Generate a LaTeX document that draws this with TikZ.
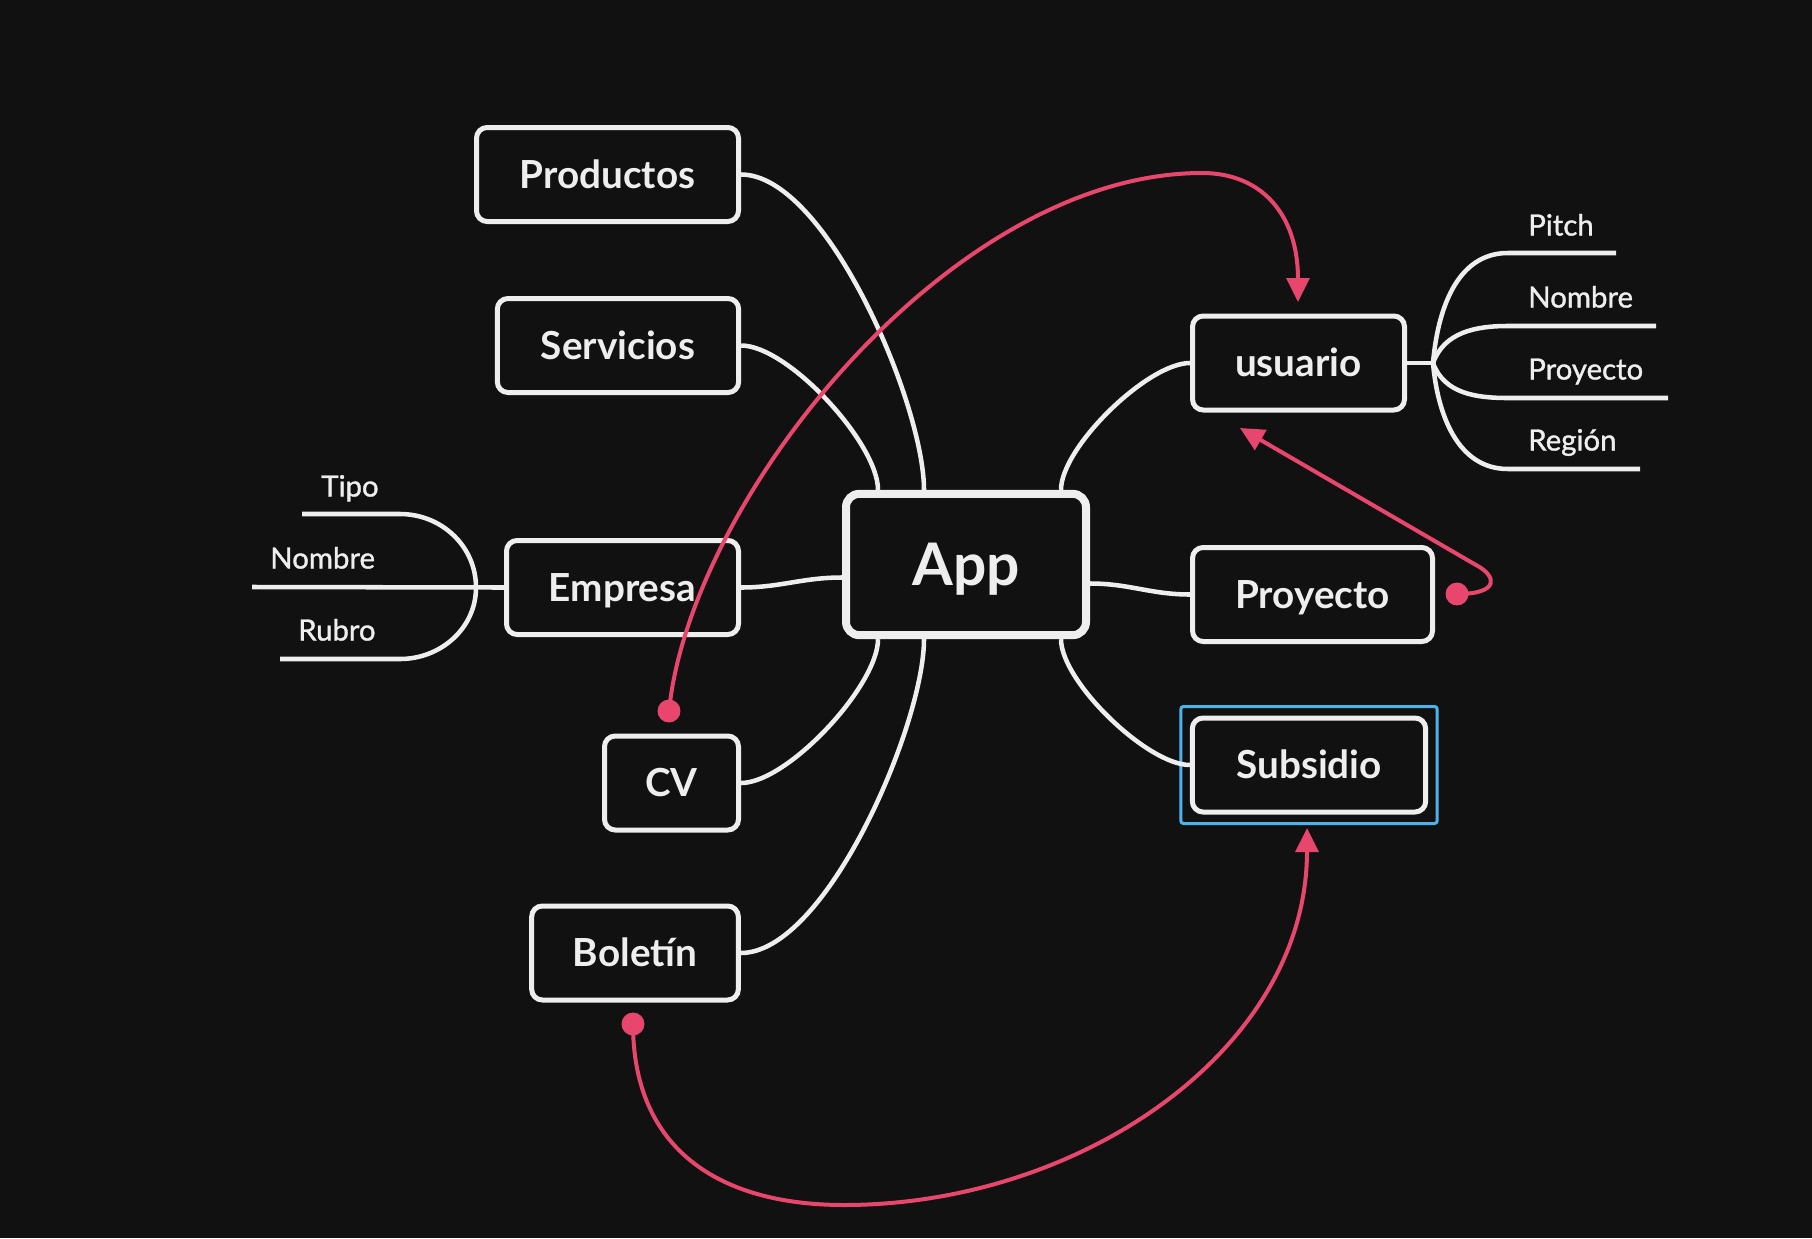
\documentclass[tikz,border=0pt]{standalone}
\usepackage{fontspec}
\setmainfont{Lato}
\newfontfamily\leaffont{Lato}[FakeBold=1.2]
\usepackage{xcolor}
\usepackage{tikz}
\usetikzlibrary{calc,arrows.meta}

\definecolor{bgc}{HTML}{111111}
\definecolor{fgc}{HTML}{EEEEEE}
\definecolor{pinkc}{HTML}{E8466C}
\definecolor{selc}{HTML}{4BB4EE}

\tikzset{
  box/.style={draw=fgc, line width=3.75pt, rounded corners=8pt, fill=bgc, text=fgc,
    font=\bfseries\fontsize{29}{34}\selectfont, minimum height=70.5pt, inner sep=0pt,
    text height=20.8pt, text depth=0pt},
  wire/.style={draw=fgc, line width=3.4pt},
  leaf/.style={text=fgc, font=\leaffont\fontsize{22}{26}\selectfont, inner sep=0pt,
    text height=15.8pt, text depth=0pt, anchor=west},
  link/.style={draw=pinkc, line width=3pt, -{Triangle[length=18pt,width=17pt]}},
}

\begin{document}
\begin{tikzpicture}[x=0.75pt,y=0.75pt,yscale=-1,xscale=1]

    \fill[bgc] (0,0) rectangle (1812,1238);

    \node[box, minimum width=180pt, minimum height=106pt, line width=6pt, rounded corners=10pt,
      font=\bfseries\fontsize{44}{50}\selectfont, text height=31.5pt] (app) at (966,564.5) {App};
    \node[box, minimum width=196.5pt] (prod) at (607.5,174.5) {Productos};
    \node[box, minimum width=181pt] (serv) at (618,345.5) {Servicios};
    \node[box, minimum width=174pt] (emp) at (622.5,587.5) {Empresa};
    \node[box, minimum width=100.5pt] (cv) at (671.5,783) {CV};
    \node[box, minimum width=155pt] (bol) at (635,953) {Boletín};
    \node[box, minimum width=159pt] (usr) at (1298.5,363) {usuario};
    \node[box, minimum width=180pt] (proy) at (1312.5,594.5) {Proyecto};
    \node[box, minimum width=175pt] (sub) at (1309,765) {Subsidio};

    \draw[selc, line width=2.25pt, rounded corners=2pt] ($(sub.north west)+(-9,-9)$) rectangle ($(sub.south east)+(9,9)$);

    \draw[wire] ($(app.north)+(-42,0)$) to[out=-90,in=0,looseness=0.6] (prod.east);
    \draw[wire] ($(app.north)+(-88,0)$) to[out=-90,in=0,looseness=0.6] (serv.east);
    \draw[wire] ($(app.west)+(0,13)$) to[out=180,in=0] (emp.east);
    \draw[wire] ($(app.south)+(-88,0)$) to[out=90,in=0,looseness=0.6] (cv.east);
    \draw[wire] ($(app.south)+(-42,0)$) to[out=90,in=0,looseness=0.6] (bol.east);
    \draw[wire] ($(app.north)+(95,0)$) to[out=-90,in=180,looseness=0.6] (usr.west);
    \draw[wire] ($(app.east)+(0,19)$) to[out=0,in=180] (proy.west);
    \draw[wire] ($(app.south)+(95,0)$) to[out=90,in=180,looseness=0.6] (sub.west);

    \coordinate (ujn) at ($(usr.east)+(26,0)$);
    \coordinate (pitchL) at (1508,253);  \coordinate (pitchR) at (1616,253);
    \coordinate (nomuL) at (1508,326);   \coordinate (nomuR) at (1656,326);
    \coordinate (proyuL) at (1508,398);  \coordinate (proyuR) at (1668,398);
    \coordinate (reguL) at (1508,469);   \coordinate (reguR) at (1640,469);
    \draw[wire] (usr.east) -- (ujn);
    \draw[wire] (ujn) to[out=-85,in=180] (pitchL) -- (pitchR);
    \draw[wire] (ujn) to[out=-70,in=180] (nomuL) -- (nomuR);
    \draw[wire] (ujn) to[out=70,in=180] (proyuL) -- (proyuR);
    \draw[wire] (ujn) to[out=85,in=180] (reguL) -- (reguR);
    \node[leaf] (pitch) at (1528,225) {Pitch};
    \node[leaf] (nomu) at (1528,297) {Nombre};
    \node[leaf] (proyu) at (1528,369) {Proyecto};
    \node[leaf] (regu) at (1528,440) {Región};

    \coordinate (ejn) at ($(emp.west)+(-28,0)$);
    \coordinate (tipoR) at (400,514);  \coordinate (tipoL) at (302,514);
    \coordinate (nomeL) at (252,587);
    \coordinate (rubR) at (400,659);   \coordinate (rubL) at (280,659);
    \draw[wire] (emp.west) -- (nomeL);
    \draw[wire] (ejn) to[out=-90,in=0] (tipoR) -- (tipoL);
    \draw[wire] (ejn) to[out=90,in=0] (rubR) -- (rubL);
    \node[leaf] (tipo) at (321,486) {Tipo};
    \node[leaf] (nome) at (270,558) {Nombre};
    \node[leaf] (rub) at (298,630) {Rubro};

    \coordinate (cvdot) at (669,711);
    \coordinate (bdot) at (633,1024);
    \coordinate (prdot) at (1457,594);
    \coordinate (usrtop) at (1298,302);
    \coordinate (usrlow) at (1240,428);
    \coordinate (subtip) at (1307,828);
    \draw[link] (cvdot) .. controls (690,500) and (950,173) .. (1202,173) .. controls (1262,173) and (1298,215) .. (usrtop);
    \draw[link] (prdot) .. controls (1500,594) and (1497,576) .. (1476,565) -- (usrlow);
    \draw[link] (bdot) .. controls (633,1150) and (720,1205) .. (844,1205) .. controls (1080,1205) and (1307,1050) .. (subtip);
    \fill[pinkc] (cvdot) circle (8.6pt);
    \fill[pinkc] (bdot) circle (8.6pt);
    \fill[pinkc] (prdot) circle (8.6pt);

\end{tikzpicture}
\end{document}
